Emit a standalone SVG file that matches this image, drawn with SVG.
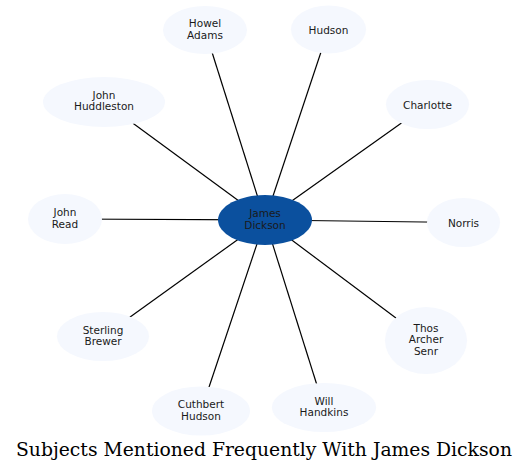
<svg xmlns="http://www.w3.org/2000/svg" width="529" height="472" viewBox="0 0 529 472">
<style>
.n ellipse{fill:#f5f8fe;stroke:none}
.n text{font-family:"DejaVu Sans",sans-serif;font-size:10.5px;fill:#1a1a1a;text-anchor:middle}
#c ellipse{fill:#0b509e}
.e line{stroke:#000;stroke-width:1.2}
.t{font-family:"DejaVu Serif",serif;font-size:18.5px;fill:#000;text-anchor:middle}
</style>
<rect width="529" height="472" fill="#fff"/>
<g id="edges" class="e">
<line x1="265" y1="220" x2="205" y2="30"/>
<line x1="265" y1="220" x2="328.5" y2="29.5"/>
<line x1="265" y1="220" x2="104" y2="102"/>
<line x1="265" y1="220" x2="427.5" y2="104.5"/>
<line x1="265" y1="220" x2="65" y2="219"/>
<line x1="265" y1="220" x2="463.5" y2="222.5"/>
<line x1="265" y1="220" x2="103" y2="336.5"/>
<line x1="265" y1="220" x2="426" y2="340.5"/>
<line x1="265" y1="220" x2="201" y2="411"/>
<line x1="265" y1="220" x2="324" y2="407.5"/>
</g>
<g id="howel" class="n"><ellipse cx="205" cy="30" rx="42" ry="24"/><text x="205" y="27">Howel</text><text x="205" y="38.5">Adams</text></g>
<g id="hudson" class="n"><ellipse cx="328.5" cy="29.5" rx="37.5" ry="24"/><text x="328.5" y="34">Hudson</text></g>
<g id="huddleston" class="n"><ellipse cx="104" cy="102" rx="61" ry="25"/><text x="104" y="98.5">John</text><text x="104" y="110">Huddleston</text></g>
<g id="charlotte" class="n"><ellipse cx="427.5" cy="104.5" rx="41.5" ry="24.5"/><text x="427.5" y="108.5">Charlotte</text></g>
<g id="read" class="n"><ellipse cx="65" cy="219" rx="37" ry="25"/><text x="65" y="216">John</text><text x="65" y="227.5">Read</text></g>
<g id="c" class="n"><ellipse cx="265" cy="220" rx="47" ry="25"/><text x="265" y="217">James</text><text x="265" y="228.5">Dickson</text></g>
<g id="norris" class="n"><ellipse cx="463.5" cy="222.5" rx="36.5" ry="24.5"/><text x="463.5" y="226.5">Norris</text></g>
<g id="brewer" class="n"><ellipse cx="103" cy="336.5" rx="46" ry="24.5"/><text x="103" y="333.5">Sterling</text><text x="103" y="345">Brewer</text></g>
<g id="thos" class="n"><ellipse cx="426" cy="340.5" rx="41" ry="33.5"/><text x="426" y="331.7">Thos</text><text x="426" y="343.2">Archer</text><text x="426" y="354.7">Senr</text></g>
<g id="cuthbert" class="n"><ellipse cx="201" cy="411" rx="49" ry="24.5"/><text x="201" y="408">Cuthbert</text><text x="201" y="419.5">Hudson</text></g>
<g id="will" class="n"><ellipse cx="324" cy="407.5" rx="52" ry="24.5"/><text x="324" y="404.5">Will</text><text x="324" y="416">Handkins</text></g>
<text class="t" x="264" y="456" textLength="496" lengthAdjust="spacingAndGlyphs">Subjects Mentioned Frequently With James Dickson</text>
</svg>
